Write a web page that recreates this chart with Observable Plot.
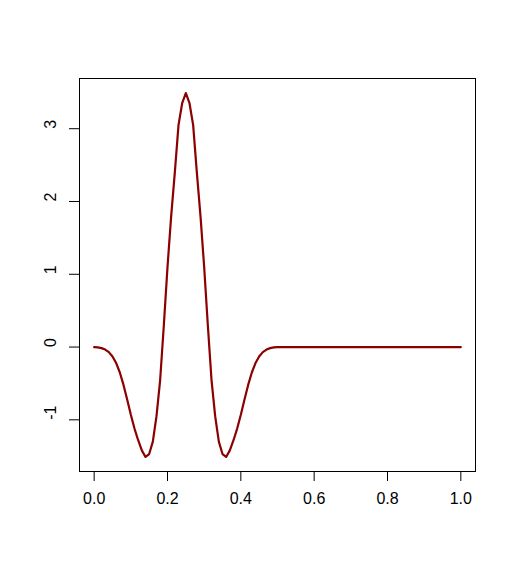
<!DOCTYPE html>
<html>
<head>
<meta charset="utf-8">
<script src="https://cdn.jsdelivr.net/npm/d3@7"></script>
<script src="https://cdn.jsdelivr.net/npm/@observablehq/plot@0.6"></script>
<style>
  html, body { margin: 0; padding: 0; background: #fff; }
  svg { font-family: "Liberation Sans", Arial, Helvetica, sans-serif; display: block; }
  #chart svg text { font-size: 16px !important; fill: #000; }
</style>
</head>
<body>
<div id="chart"></div>
<script>
// x sampled every 0.01 from 0 to 1
const xValues = d3.range(0, 101).map(i => i / 100);
// y values, x = 0.00 ... 0.50
const yFirstHalf = [
  0, -0.005, -0.015, -0.035, -0.07, -0.13, -0.22, -0.35, -0.52, -0.72,
  -0.93, -1.12, -1.28, -1.42, -1.51, -1.47, -1.30, -0.95, -0.45, 0.30,
  1.10, 1.80, 2.40, 3.05, 3.35, 3.49, 3.35, 3.05, 2.40, 1.80,
  1.10, 0.30, -0.45, -0.95, -1.30, -1.47, -1.51, -1.42, -1.28, -1.12,
  -0.93, -0.72, -0.52, -0.35, -0.22, -0.13, -0.07, -0.035, -0.015, -0.005,
  0
];
// x = 0.51 ... 1.00 : flat at zero
const ySecondHalf = [
  0,0,0,0,0,0,0,0,0,0, 0,0,0,0,0,0,0,0,0,0,
  0,0,0,0,0,0,0,0,0,0, 0,0,0,0,0,0,0,0,0,0,
  0,0,0,0,0,0,0,0,0,0
];
const yValues = yFirstHalf.concat(ySecondHalf);
const xTicks = [0, 0.2, 0.4, 0.6, 0.8, 1.0];
const yTicks = [-1, 0, 1, 2, 3];

const data = xValues.map((x, i) => ({x, y: yValues[i]}));

const chart = Plot.plot({
  width: 516,
  height: 570,
  marginLeft: 79,
  marginRight: 41,
  marginTop: 78,
  marginBottom: 99,
  style: {fontSize: "16px", fontFamily: "'Liberation Sans', Arial, Helvetica, sans-serif", background: "#fff"},
  x: {domain: [-0.04, 1.04]},
  y: {domain: [-1.71, 3.69]},
  marks: [
    Plot.frame({stroke: "#000", strokeWidth: 1}),
    Plot.axisX({ticks: xTicks, tickSize: 10, tickPadding: 11, tickFormat: d => d.toFixed(1), label: null, fontSize: 16, stroke: "#000", fill: "#000"}),
    Plot.axisY({ticks: yTicks, tickSize: 10, tickFormat: () => "", label: null, stroke: "#000"}),
    Plot.text(yTicks, {y: d => d, text: d => String(d), frameAnchor: "left", dx: -29, rotate: -90, fontSize: 16, fill: "#000"}),
    Plot.line(data, {x: "x", y: "y", stroke: "#8B0000", strokeWidth: 2.2})
  ]
});
document.getElementById("chart").appendChild(chart);
</script>
</body>
</html>
